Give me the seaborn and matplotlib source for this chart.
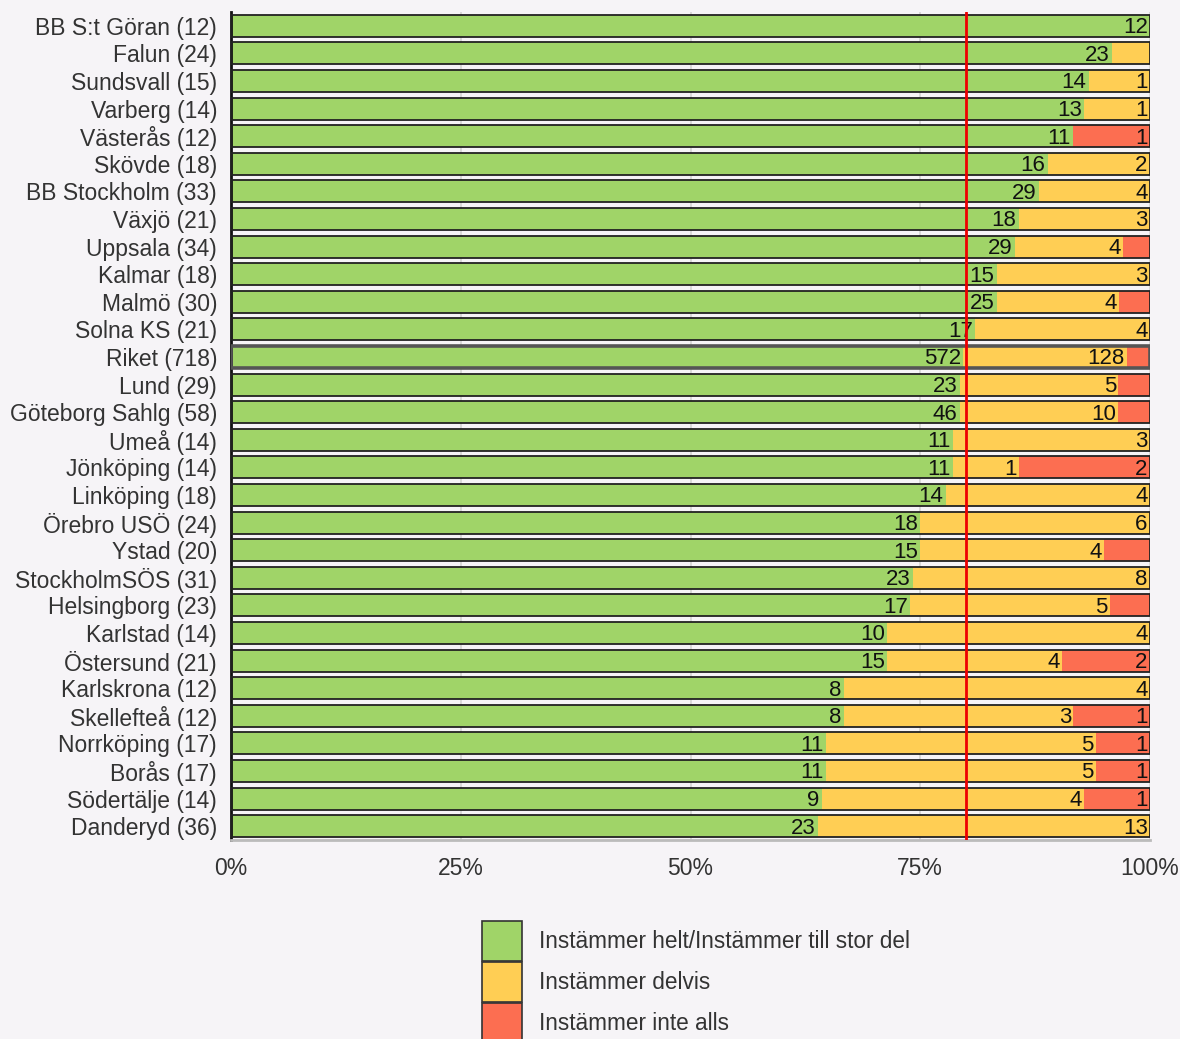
import numpy as np
import pandas as pd
import matplotlib
matplotlib.use("Agg")
import matplotlib.pyplot as plt
from matplotlib.patches import Patch
import seaborn as sns

# Survey answers per clinic: counts for each response category
clinics = ["BB S:t Göran", "Falun", "Sundsvall", "Varberg", "Västerås", "Skövde",
           "BB Stockholm", "Växjö", "Uppsala", "Kalmar", "Malmö", "Solna KS", "Riket",
           "Lund", "Göteborg Sahlg", "Umeå", "Jönköping", "Linköping", "Örebro USÖ",
           "Ystad", "StockholmSÖS", "Helsingborg", "Karlstad", "Östersund",
           "Karlskrona", "Skellefteå", "Norrköping", "Borås", "Södertälje", "Danderyd"]
helt = [12, 23, 14, 13, 11, 16, 29, 18, 29, 15, 25, 17, 572,
        23, 46, 11, 11, 14, 18, 15, 23, 17, 10, 15, 8, 8, 11, 11, 9, 23]
delvis = [0, 1, 1, 1, 0, 2, 4, 3, 4, 3, 4, 4, 128,
          5, 10, 3, 1, 4, 6, 4, 8, 5, 4, 4, 4, 3, 5, 5, 4, 13]
inte = [0, 0, 0, 0, 1, 0, 0, 0, 1, 0, 1, 0, 18,
        1, 2, 0, 2, 0, 0, 1, 0, 1, 0, 2, 0, 1, 1, 1, 1, 0]
series_names = ["Instämmer helt/Instämmer till stor del", "Instämmer delvis",
                "Instämmer inte alls"]
target = 80
xticks = [0, 25, 50, 75, 100]

colors = ["#a0d468", "#ffce54", "#fc6e51"]
bg = "#f6f4f7"

helt_a = np.array(helt, float)
delvis_a = np.array(delvis, float)
inte_a = np.array(inte, float)
total = helt_a + delvis_a + inte_a
labels = [f"{c} ({int(t)})" for c, t in zip(clinics, total)]

df = pd.DataFrame({
    "label": labels,
    "p1": helt_a / total * 100,
    "p2": (helt_a + delvis_a) / total * 100,
    "p3": total / total * 100,
})

sns.set_theme(style="white")
plt.rcParams["font.family"] = ["Liberation Sans", "DejaVu Sans"]
plt.rcParams["text.color"] = "#333333"

fig = plt.figure(figsize=(11.8, 10.39), dpi=100, facecolor=bg)
ax = fig.add_axes([231 / 1180, 1 - 840 / 1039, 919 / 1180, 828 / 1039])
ax.set_facecolor(bg)

# Cumulative layers drawn back to front give a stacked bar
for col, c in zip(["p3", "p2", "p1"], colors[::-1]):
    sns.barplot(data=df, x=col, y="label", orient="h", color=c, width=0.8,
                saturation=1, linewidth=0, ax=ax, zorder=2)

# Outline around each full bar
for i, lab in enumerate(labels):
    riket = lab.startswith("Riket")
    ax.barh(i, 100, height=0.8, left=0, facecolor="none",
            edgecolor="#555555" if riket else "#222222",
            linewidth=2.6 if riket else 1.3, zorder=4)

# Segment value labels, right-aligned at each segment's end
for i in range(len(labels)):
    ends = [df.p1[i], df.p2[i], df.p3[i]]
    starts = [0, df.p1[i], df.p2[i]]
    counts = [helt[i], delvis[i], inte[i]]
    for s, e, n in zip(starts, ends, counts):
        if n > 0 and (e - s) >= 5.5:
            ax.text(e - 0.25, i + 0.07, str(n), ha="right", va="center",
                    fontsize=16, color="#111111", zorder=5)

ax.axvline(target, color="#ee0000", linewidth=2, zorder=6)

ax.set_xlim(0, 100)
ax.set_ylim(len(labels) - 0.5, -0.5)
ax.set_xticks(xticks)
ax.set_xticklabels([f"{v}%" for v in xticks])
ax.xaxis.grid(True, color="#d4d4d4", linewidth=1.2, zorder=0)
ax.set_axisbelow(True)
ax.set_xlabel("")
ax.set_ylabel("")
ax.tick_params(axis="y", length=0, pad=10, labelsize=16.5, labelcolor="#333333")
ax.tick_params(axis="x", length=0, pad=12, labelsize=16.5, labelcolor="#333333")
for side in ["top", "right"]:
    ax.spines[side].set_visible(False)
ax.spines["left"].set_color("#111111")
ax.spines["left"].set_linewidth(2)
ax.spines["bottom"].set_color("#bbbbbb")
ax.spines["bottom"].set_linewidth(2)

handles = [Patch(facecolor=c, edgecolor="#333333", linewidth=1.2) for c in colors]
fig.legend(handles, series_names, loc="upper left",
           bbox_to_anchor=(482 / 1180, 1 - 921 / 1039), frameon=False,
           fontsize=16.3, handlelength=1.75, handleheight=2.34,
           labelspacing=0.04, handletextpad=0.75, borderaxespad=0,
           borderpad=0)

fig.savefig("out.png", dpi=100, facecolor=bg)
